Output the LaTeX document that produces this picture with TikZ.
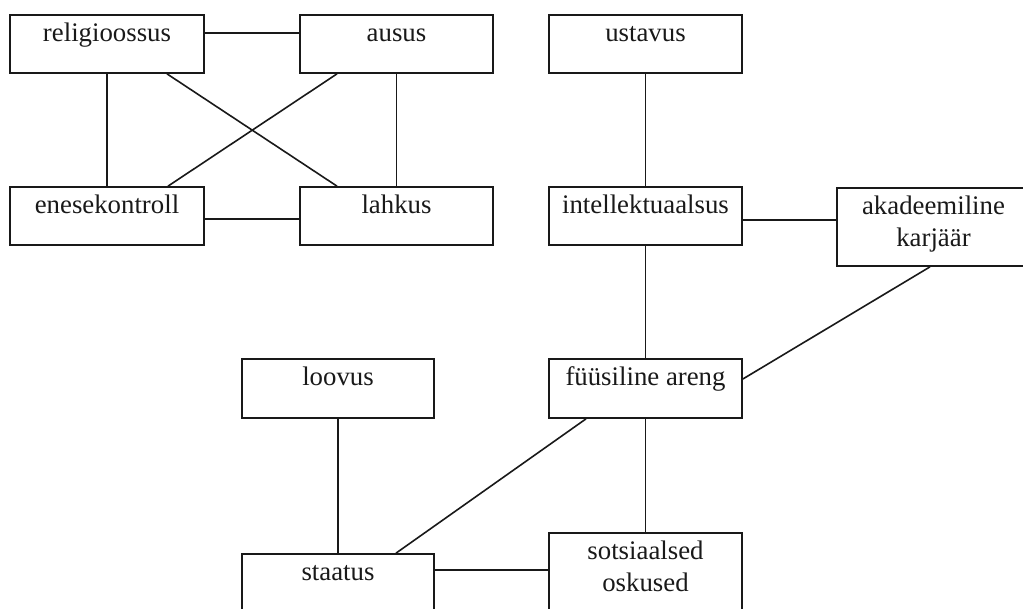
\documentclass[tikz,border=0pt]{standalone}
\usepackage{fontspec}
\setmainfont{Liberation Serif}
\begin{document}
\begin{tikzpicture}[x=1pt,y=-1pt,
  box/.style={draw=black!90,line width=1.7pt,minimum width=193pt,minimum height=58pt,inner sep=0pt},
  tall/.style={box,minimum height=78pt},
  lbl/.style={anchor=north,inner sep=0pt,align=center,font=\fontsize{26.8}{32}\selectfont,text=black!90},
  conn/.style={draw=black!90,line width=1.6pt}]
\useasboundingbox (0,0) rectangle (1023,608);
\clip (0,0) rectangle (1023,608);
% boxes
\node[box,minimum width=194pt] (rel) at (107,44) {};
\node[box] (aus) at (396.5,44) {};
\node[box] (ust) at (645.5,44) {};
\node[box,minimum width=194pt] (ene) at (107,216) {};
\node[box] (lah) at (396.5,216) {};
\node[box] (int) at (645.5,216) {};
\node[tall,minimum width=210pt] (aka) at (942,227) {};
\node[box,minimum width=192pt,minimum height=59pt] (loo) at (338,388.5) {};
\node[box,minimum height=59pt] (fyy) at (645.5,388.5) {};
\node[box,minimum width=192pt] (sta) at (338,583) {};
\node[tall] (sot) at (645.5,572) {};
% texts
\node[lbl] (rel-t) at ([yshift=-4.6pt]rel.north) {\strut religioossus};
\node[lbl] (aus-t) at ([yshift=-4.6pt]aus.north) {\strut ausus};
\node[lbl] (ust-t) at ([yshift=-4.6pt]ust.north) {\strut ustavus};
\node[lbl] (ene-t) at ([yshift=-4.6pt]ene.north) {\strut enesekontroll};
\node[lbl] (lah-t) at ([yshift=-4.6pt]lah.north) {\strut lahkus};
\node[lbl] (int-t) at ([yshift=-4.6pt]int.north) {\strut intellektuaalsus};
\node[lbl] (aka-t) at ([xshift=-8.5pt,yshift=-4.6pt]aka.north) {\strut akadeemiline\\karjäär};
\node[lbl] (loo-t) at ([yshift=-4.6pt]loo.north) {\strut loovus};
\node[lbl] (fyy-t) at ([yshift=-4.6pt]fyy.north) {\strut füüsiline areng};
\node[lbl] (sta-t) at ([yshift=-4.6pt]sta.north) {\strut staatus};
\node[lbl] (sot-t) at ([yshift=-4.6pt]sot.north) {\strut sotsiaalsed\\oskused};
% connectors
\draw[conn] ([yshift=11pt]rel.east) -- ([yshift=11pt]rel.east -| aus.west);
\draw[conn] ([yshift=-3pt]ene.east) -- ([yshift=-3pt]ene.east -| lah.west);
\draw[conn] (rel.south) -- (ene.north);
\draw[conn] (aus.south) -- (lah.north);
\draw[conn] ([xshift=60pt]rel.south) -- ([xshift=-59.5pt]lah.north);
\draw[conn] ([xshift=-59.5pt]aus.south) -- ([xshift=61pt]ene.north);
\draw[conn] (ust.south) -- (int.north);
\draw[conn] (int.south) -- (fyy.north);
\draw[conn] ([yshift=-4pt]int.east) -- ([yshift=-4pt]int.east -| aka.west);
\draw[conn] ([xshift=-12pt]aka.south) -- ([yshift=9.5pt]fyy.east);
\draw[conn] (fyy.south) -- (sot.north);
\draw[conn] (loo.south) -- (sta.north);
\draw[conn] ([xshift=-59.5pt]fyy.south) -- ([xshift=58pt]sta.north);
\draw[conn] ([yshift=13pt]sta.east) -- ([yshift=13pt]sta.east -| sot.west);
\end{tikzpicture}
\end{document}
